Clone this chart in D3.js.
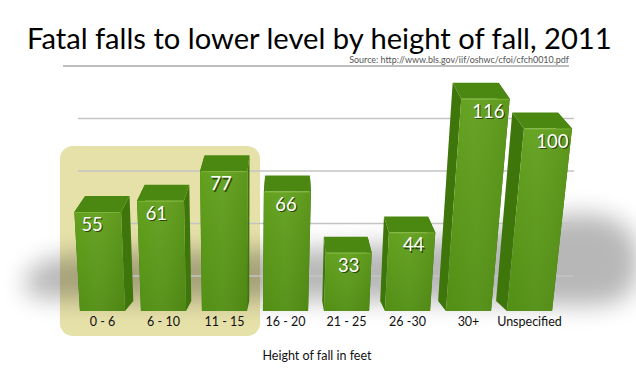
<!DOCTYPE html>
<html>
<head>
<meta charset="utf-8">
<script src="https://cdn.jsdelivr.net/npm/d3@7"></script>
<style>
  body { margin: 0; background: #fff; }
  svg { display: block; }
</style>
</head>
<body>
<div id="chart"></div>
<script>
// data
const categories = ["0 - 6", "6 - 10", "11 - 15", "16 - 20", "21 - 25", "26 -30", "30+", "Unspecified"];
const fatalities = [55, 61, 77, 66, 33, 44, 116, 100];
const gridValues = [25, 50, 75, 100, 125];
const highlighted = ["0 - 6", "6 - 10", "11 - 15"];

const width = 636, height = 376;
const base = 311;            // floor line of the bars
const fontFamily = "Lato, 'Open Sans', sans-serif";

const svg = d3.select("#chart")
    .append("svg")
    .attr("width", width)
    .attr("height", height);

const defs = svg.append("defs");

// Scales
const xScale = d3.scaleBand()
    .domain(categories)
    .range([72, 560])
    .paddingInner(0.26)
    .paddingOuter(0.13);

const yScale = d3.scaleLinear()
    .domain([0, 120])
    .range([314, 91.4]);

const gridScale = d3.scaleLinear()
    .domain([25, 125])
    .range([276, 66]);

const bw = xScale.bandwidth();

// fake perspective: verticals spread out toward the top, depth recedes toward centre
const vx = 240, lean = 0.00035;
const tilt = (x, y) => x + (x - vx) * (base - y) * lean;
const backTop = p => [p[0] + (290 - p[0]) * 0.05, p[1] - 16];
const backBot = p => [p[0] + (290 - p[0]) * 0.05, p[1] - 10];

// Gradients / filters
const frontGrad = defs.append("linearGradient")
    .attr("id", "front-grad")
    .attr("x1", 0).attr("y1", 0).attr("x2", 0).attr("y2", 1);
frontGrad.append("stop").attr("offset", "0%").attr("stop-color", "#62a01d");
frontGrad.append("stop").attr("offset", "100%").attr("stop-color", "#528f14");

const frontSheen = defs.append("linearGradient")
    .attr("id", "front-sheen")
    .attr("x1", 0).attr("y1", 0).attr("x2", 1).attr("y2", 0);
frontSheen.append("stop").attr("offset", "0%").attr("stop-color", "#fff").attr("stop-opacity", 0.0);
frontSheen.append("stop").attr("offset", "45%").attr("stop-color", "#fff").attr("stop-opacity", 0.04);
frontSheen.append("stop").attr("offset", "100%").attr("stop-color", "#000").attr("stop-opacity", 0.06);

const shadowBlur = defs.append("filter")
    .attr("id", "shadow-blur")
    .attr("x", "-30%").attr("y", "-60%")
    .attr("width", "160%").attr("height", "220%");
shadowBlur.append("feGaussianBlur").attr("stdDeviation", 12);

const [r0, r1] = xScale.range();

// Highlight box behind the first three groups
const hx0 = xScale(highlighted[0]) - 20;
const hx1 = xScale(highlighted[highlighted.length - 1]) + bw + 13;
svg.append("rect")
    .attr("x", hx0)
    .attr("y", 146)
    .attr("width", hx1 - hx0)
    .attr("height", 190)
    .attr("rx", 13)
    .attr("fill", "#e6e0a9");

// Soft shadow cast behind the bars
const shadowPts = [
    [r0 - 50, base - 14],
    [r0 - 45, base - 58],
    [r0 + 90, base - 60],
    [r1 - 120, base - 62],
    [r1 + 10, base - 105],
    [r1 + 85, base - 90],
    [r1 + 80, base + 5],
    [r1 - 20, base - 12],
    [r0 - 30, base - 10]
];
svg.append("path")
    .attr("d", d3.line().curve(d3.curveBasisClosed)(shadowPts))
    .attr("fill", "#000")
    .attr("opacity", 0.28)
    .attr("filter", "url(#shadow-blur)");

// Gridlines
svg.append("g")
    .attr("class", "grid")
    .selectAll("line")
    .data(gridValues)
    .join("line")
    .attr("x1", d => d === 125 ? r0 - 9 : r0 + 6)
    .attr("x2", d => d === 125 ? r1 + 9 : r1 + 14)
    .attr("y1", d => gridScale(d))
    .attr("y2", d => gridScale(d))
    .attr("stroke", d => d === 125 ? "#a9a9a9" : "#c4c4c4")
    .attr("stroke-width", 1.5);

// Bars
const data = categories.map((c, i) => ({ cat: c, value: fatalities[i] }));
const poly = pts => "M" + pts.map(p => p.join(",")).join("L") + "Z";

svg.append("g").attr("class", "bars")
    .selectAll("g")
    .data(data)
    .join("g")
    .each(function(d) {
        const g = d3.select(this);
        const x0 = xScale(d.cat), x1 = x0 + bw;
        const yt = yScale(d.value);
        const flt = [tilt(x0, yt), yt], frt = [tilt(x1, yt), yt];
        const flb = [x0, base], frb = [x1, base];

        // side faces
        g.append("path")
            .attr("d", poly([flt, backTop(flt), backBot(flb), flb]))
            .attr("fill", "#3e760b");
        g.append("path")
            .attr("d", poly([frt, backTop(frt), backBot(frb), frb]))
            .attr("fill", "#3e760b");
        // top face
        g.append("path")
            .attr("d", poly([flt, frt, backTop(frt), backTop(flt)]))
            .attr("fill", "#4b8811");
        // front face
        g.append("path")
            .attr("d", poly([flt, frt, frb, flb]))
            .attr("fill", "url(#front-grad)");
        g.append("path")
            .attr("d", poly([flt, frt, frb, flb]))
            .attr("fill", "url(#front-sheen)");
        // light edge where front meets the top
        g.append("line")
            .attr("x1", flt[0] + 1).attr("x2", frt[0] - 1)
            .attr("y1", yt + 0.5).attr("y2", yt + 0.5)
            .attr("stroke", "#8cc441")
            .attr("stroke-opacity", 0.6)
            .attr("stroke-width", 1);

        // value label
        const cx = x0 + bw / 2;
        const ly = yt + 19;
        const lx = tilt(cx, ly) + (cx - 320) * 0.03;
        g.append("text")
            .attr("x", lx + 1.2).attr("y", ly + 1.4)
            .attr("text-anchor", "middle")
            .attr("font-family", fontFamily)
            .attr("font-size", 18.5)
            .attr("fill", "#1f3a05")
            .attr("fill-opacity", 0.85)
            .text(d.value);
        g.append("text")
            .attr("x", lx).attr("y", ly)
            .attr("text-anchor", "middle")
            .attr("font-family", fontFamily)
            .attr("font-size", 18.5)
            .attr("fill", "#fff")
            .text(d.value);
    });

// Category axis
const xAxis = d3.axisBottom(xScale).tickSize(0).tickPadding(0);
const axisG = svg.append("g")
    .attr("transform", `translate(0,${base + 4})`)
    .call(xAxis);
axisG.select(".domain").remove();
axisG.selectAll("text")
    .attr("font-family", fontFamily)
    .attr("font-size", 12.5)
    .attr("fill", "#111")
    .attr("dy", "0.88em");

// Axis title
svg.append("text")
    .attr("x", 317)
    .attr("y", 360)
    .attr("text-anchor", "middle")
    .attr("font-family", fontFamily)
    .attr("font-size", 12.5)
    .attr("fill", "#111")
    .text("Height of fall in feet");

// Chart title, scaled to span the same width as the original
const title = svg.append("text")
    .attr("x", 27)
    .attr("y", 49)
    .attr("font-family", fontFamily)
    .attr("font-size", 36)
    .attr("fill", "#000")
    .text("Fatal falls to lower level by height of fall, 2011");
const tw = title.node().getComputedTextLength();
title.attr("font-size", 36 * 585 / tw);

// Source line
const src = svg.append("text")
    .attr("x", 569)
    .attr("y", 63)
    .attr("text-anchor", "end")
    .attr("font-family", fontFamily)
    .attr("font-size", 8.5)
    .attr("fill", "#555")
    .text("Source:  http://www.bls.gov/iif/oshwc/cfoi/cfch0010.pdf");
const sw = src.node().getComputedTextLength();
src.attr("font-size", 8.5 * 220 / sw);
</script>
</body>
</html>
